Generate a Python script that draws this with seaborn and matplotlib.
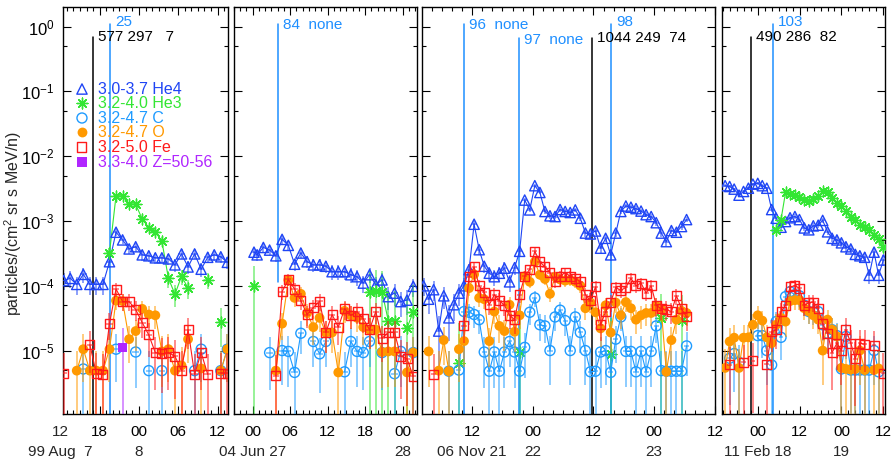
import numpy as np
import pandas as pd
import matplotlib
matplotlib.use("Agg")
import matplotlib.pyplot as plt
import seaborn as sns
from matplotlib.ticker import FixedLocator, MultipleLocator, NullFormatter

nan = np.nan

# ---------------------------------------------------------------- data
LEGEND_LABELS = ["3.0-3.7 He4", "3.2-4.0 He3", "3.2-4.7 C",
                 "3.2-4.7 O", "3.2-5.0 Fe", "3.3-4.0 Z=50-56"]

# Panel 1 : 1999 Aug 7-8 (hours from Aug 7 00:00)
p1_hours = [12.5, 13.5, 14.5, 15.5, 16.5, 17.5, 18.5, 19.5, 20.5, 21.5, 22.5, 23.5, 24.5,
            25.5, 26.5, 27.5, 28.5, 29.5, 30.5, 31.5, 32.5, 33.5, 34.5, 35.5, 36.5, 37.5]
p1_he4 = [1.2e-4, 1.3e-4, 1.05e-4, 1.5e-4, 1.05e-4, 1.05e-4, 1.05e-4, 2.35e-4, 6.7e-4, 5.1e-4,
          3.7e-4, 4.0e-4, 3.0e-4, 2.9e-4, 2.7e-4, 2.7e-4, 2.6e-4, 2.1e-4, 3.1e-4, 1.95e-4,
          3.1e-4, 1.8e-4, 2.75e-4, 3.0e-4, 2.8e-4, 2.3e-4]
p1_he3 = [nan, nan, nan, nan, nan, nan, nan, 3.2e-4, 2.45e-3, 2.4e-3, 1.8e-3, 1.8e-3, 1.07e-3,
          7.9e-4, 6.7e-4, 4.9e-4, 1.3e-4, 7.4e-5, 1.4e-4, 9.2e-5, nan, nan, 1.23e-4, nan, 2.8e-5, nan]
p1_c = [nan, nan, nan, 5.2e-6, nan, nan, nan, nan, 1.05e-5, nan, nan, 9.5e-6, nan, 4.9e-6,
        nan, 4.9e-6, nan, nan, nan, nan, 4.9e-6, 1.05e-5, nan, nan, 4.9e-6, 1.05e-5]
p1_o = [nan, nan, 4.9e-6, 1.05e-5, 4.9e-6, 4.9e-6, 4.9e-6, 1.05e-5, 5.9e-5, 5.8e-5, 1.5e-5,
        2.0e-5, 4.4e-5, 3.6e-5, 3.5e-5, 9.7e-6, 1.05e-5, 4.9e-6, 5.9e-6, 1.5e-5, nan, 5.3e-6,
        nan, nan, 4.9e-6, 1.05e-5]
p1_fe = [4.5e-6, nan, nan, nan, 1.23e-5, 4.4e-6, 4.3e-6, 2.6e-5, 8.9e-5, 5.7e-5, 5.7e-5, 4.3e-5,
         2.7e-5, 1.74e-5, 9.3e-6, 8.9e-6, 9.3e-6, 8.2e-6, 4.9e-6, 2.1e-5, 4.3e-6, 9.3e-6, 4.3e-6,
         nan, 4.5e-6, 4.5e-6]
p1_z = [nan, nan, nan, nan, nan, nan, nan, nan, nan, 1.1e-5, nan, nan, nan, nan, nan, nan, nan,
        nan, nan, nan, nan, nan, nan, nan, nan, nan]

# Panel 2 : 2004 Jun 27-28 (hours from Jun 27 00:00)
p2_hours = [0.2, 0.7, 1.7, 2.7, 3.7, 4.7, 5.7, 6.7, 7.7, 8.7, 9.7, 10.7, 11.7, 12.7, 13.7, 14.7,
            15.7, 16.7, 17.7, 18.7, 19.7, 20.7, 21.7, 22.7, 23.7, 24.7, 25.7]
p2_he4 = [3.3e-4, 3.0e-4, 3.9e-4, 3.55e-4, 2.9e-4, 5.2e-4, 4.2e-4, 2.15e-4, 3.2e-4, 2.35e-4,
          2.1e-4, 2.1e-4, 2.0e-4, 1.65e-4, 1.65e-4, 1.65e-4, 1.48e-4, 1.38e-4, 1.1e-4, 1.48e-4,
          1.03e-4, 1.23e-4, 6.8e-5, 7.7e-5, 5.7e-5, 6.0e-5, 9.8e-5]
p2_he3 = [1.0e-4, nan, nan, nan, nan, nan, nan, nan, nan, nan, nan, nan, nan, nan, nan, nan, nan,
          nan, nan, 8.1e-5, 8.3e-5, 8.1e-5, 2.9e-5, 2.9e-5, nan, 2.2e-5, 4.0e-5]
p2_c = [nan, nan, nan, 9.3e-6, nan, 1.0e-5, 9.7e-6, 4.6e-6, 1.85e-5, nan, 1.38e-5, 8.9e-6,
        1.38e-5, nan, nan, 4.7e-6, 1.38e-5, 9.7e-6, 9.3e-6, 1.38e-5, nan, 9.3e-6, nan, 4.4e-6,
        9.7e-6, nan, 9.3e-6]
p2_o = [nan, nan, nan, nan, 4.9e-6, 2.6e-5, 1.23e-4, 6.5e-5, 7.5e-5, 3.8e-5, 2.3e-5, 3.2e-5,
        1.9e-5, 1.9e-5, 4.6e-6, 4.1e-5, 3.5e-5, 3.2e-5, 2.3e-5, 2.1e-5, 2.1e-5, 9.5e-6, 9.7e-6,
        9.7e-6, nan, 4.6e-6, 9.3e-6]
p2_fe = [nan, nan, nan, nan, 4.1e-6, 8.1e-5, 1.25e-4, 8.9e-5, 5.9e-5, 3.6e-5, 4.6e-5, 5.8e-5,
         1.9e-5, 3.6e-5, 2.3e-5, 4.4e-5, 3.5e-5, 4.0e-5, 3.1e-5, 2.1e-5, 4.0e-5, 1.55e-5, 1.9e-5,
         1.9e-5, 8.2e-6, 7.5e-6, 4.0e-6]

# Panel 3 : 2006 Nov 21-23 (hours from Nov 21 00:00)
p3_hours = [2.4, 3.4, 4.4, 5.4, 6.4, 7.4, 8.4, 9.4, 10.4, 11.4, 12.4, 13.4, 14.4, 15.4, 16.4,
            17.4, 18.4, 19.4, 20.4, 21.4, 22.4, 23.4, 24.4, 25.4, 26.4, 27.4, 28.4, 29.4, 30.4,
            31.4, 32.4, 33.4, 34.4, 35.4, 36.4, 37.4, 38.4, 39.4, 40.4, 41.4, 42.4, 43.4, 44.4,
            45.4, 46.4, 47.4, 48.4, 49.4, 50.4, 51.4, 52.4, 53.4, 54.4]
p3_he4 = [1.0e-4, 6.2e-5, 8.7e-5, 2.0e-5, 7.0e-5, 3.2e-5, 5.1e-5, 7.7e-5, 1.0e-4, 1.77e-4,
          8.9e-4, 3.6e-4, 2.0e-4, 1.56e-4, 1.38e-4, 1.56e-4, 1.87e-4, 1.15e-4, 1.9e-4, 3.4e-4,
          2.1e-3, 1.48e-3, 3.5e-3, 2.75e-3, 1.4e-3, 1.2e-3, 1.17e-3, 1.5e-3, 1.4e-3, 1.35e-3,
          1.48e-3, 1.1e-3, 6.5e-4, 6.3e-4, 7.0e-4, 3.8e-4, 5.4e-4, 3.0e-4, 6.5e-4, 1.4e-3,
          1.7e-3, 1.63e-3, 1.55e-3, 1.42e-3, 1.25e-3, 1.17e-3, 9.4e-4, 6.5e-4, 4.8e-4, 7.1e-4,
          6.7e-4, 8.2e-4, 1.05e-3]
p3_he3 = [nan, nan, nan, nan, nan, nan, nan, 6.5e-6, nan, nan, nan, nan, nan, nan, nan, nan, nan,
          nan, nan, 9.5e-6, nan, nan, nan, nan, nan, nan, nan, nan, nan, nan, nan, nan, nan, nan,
          nan, nan, nan, 9.0e-6, nan, nan, nan, nan, nan, nan, nan, nan, nan, 3.2e-5, nan, nan,
          nan, 3.0e-5, nan]
p3_c = [nan, nan, nan, nan, nan, 4.8e-6, nan, 5.0e-6, 4.0e-5, 3.9e-5, 3.6e-5, 3.0e-5, 9.5e-6,
        4.8e-6, 9.5e-6, 4.8e-6, 9.5e-6, 1.38e-5, 9.5e-6, 4.8e-6, 1.12e-5, 3.9e-5, 6.5e-5, 2.5e-5,
        2.4e-5, 1.0e-5, 3.3e-5, 4.2e-5, 2.9e-5, 1.0e-5, 3.3e-5, 1.9e-5, 1.0e-5, 4.7e-6, 4.8e-6,
        9.5e-6, 1.0e-5, 4.6e-6, 1.5e-5, 3.3e-5, 9.7e-6, 9.7e-6, 4.7e-6, 9.7e-6, 4.7e-6, 9.7e-6,
        2.4e-5, 4.9e-6, 4.8e-6, 4.8e-6, 4.8e-6, 4.8e-6, 1.18e-5]
p3_o = [nan, 9.7e-6, nan, 4.9e-6, 1.45e-5, 4.8e-6, nan, 1.05e-5, 1.4e-5, 9.2e-5, 1.5e-4, 6.5e-5,
        6.2e-5, 1.4e-5, 4.0e-5, 2.4e-5, 2.0e-5, 5.1e-5, 1.95e-5, 3.5e-5, 1.4e-4, 1.15e-4, 2.35e-4,
        1.48e-4, 1.27e-4, 7.5e-5, 1.38e-4, 1.25e-4, 1.2e-4, 1.23e-4, 1.15e-4, 1.0e-4, 4.5e-5,
        5.5e-5, 3.9e-5, 2.2e-5, 5.0e-5, 1.9e-5, 5.5e-5, 3.5e-5, 5.6e-5, 4.5e-5, 3.0e-5, 3.5e-5,
        3.8e-5, 3.8e-5, 4.9e-5, 4.3e-5, 4.7e-6, 1.45e-5, 3.0e-5, 4.1e-5, 3.8e-5]
p3_fe = [nan, nan, 4.3e-6, nan, nan, nan, nan, nan, 2.4e-5, 1.38e-4, 1.95e-4, 1.0e-4, 7.9e-5,
         5.1e-5, 7.3e-5, 5.9e-5, 5.0e-5, 3.5e-5, 3.0e-5, 7.3e-5, 1.4e-4, 1.8e-4, 3.4e-4, 2.35e-4,
         1.95e-4, 1.6e-4, 1.15e-4, 1.4e-4, 1.6e-4, 1.4e-4, 1.3e-4, 1.15e-4, 7.3e-5, 5.9e-5,
         9.6e-5, 2.5e-5, 4.0e-5, 5.6e-5, 9.4e-5, 8.5e-5, 9.4e-5, 1.3e-4, 1.0e-4, 1.1e-4, 7.7e-5,
         1.0e-4, 5.0e-5, 4.4e-5, 4.3e-5, 4.0e-5, 7.0e-5, 4.4e-5, 3.3e-5]

# Panel 4 : 2011 Feb 17-19 (hours from Feb 18 00:00)
p4_hours = [-9.5, -8.2, -6.9, -5.5, -4.2, -2.8, -1.5, -0.1, 1.2, 2.5, 3.9, 5.2, 6.6, 7.9, 9.2,
            10.6, 11.9, 13.3, 14.6, 15.9, 17.3, 18.6, 20.0, 21.3, 22.7, 24.0, 25.3, 26.7, 28.0,
            29.3, 30.7, 32.0, 33.4, 34.7, 36.1]
p4_he4 = [3.5e-3, 3.4e-3, 3.1e-3, 2.5e-3, 2.85e-3, 3.2e-3, 3.7e-3, 3.8e-3, 3.5e-3, 3.2e-3,
          1.5e-3, 1.1e-3, 8.0e-4, 9.8e-4, 1.12e-3, 1.17e-3, 1.05e-3, 7.8e-4, 7.3e-4, 8.4e-4,
          8.6e-4, 1.02e-3, 6.8e-4, 5.4e-4, 5.1e-4, 4.6e-4, 4.0e-4, 3.7e-4, 3.05e-4, 2.9e-4,
          2.75e-4, 1.45e-4, 3.3e-4, 1.45e-4, 2.5e-4]
p4_he3 = [nan, nan, nan, nan, nan, nan, nan, nan, nan, nan, nan, 7.3e-4, 1.05e-3, 2.75e-3,
          2.65e-3, 2.5e-3, 2.3e-3, 2.1e-3, 2.0e-3, 2.15e-3, 2.4e-3, 2.85e-3, 2.75e-3, 2.25e-3,
          1.9e-3, 1.7e-3, 1.4e-3, 1.17e-3, 1.05e-3, 8.7e-4, 8.2e-4, 7.3e-4, 6.1e-4, 5.3e-4, 4.0e-4]
p4_c = [nan, 7.6e-6, 9.0e-6, 6.6e-6, nan, nan, nan, 1.7e-5, 1.7e-5, 1.0e-5, 6.0e-6, 2.8e-5,
        1.6e-5, 6.8e-5, 8.1e-5, 7.3e-5, 7.0e-5, 5.0e-5, 4.0e-5, 3.9e-5, 4.0e-5, 2.5e-5, 1.85e-5,
        2.1e-5, 1.7e-5, 5.2e-6, 1.65e-5, 5.0e-6, 5.0e-6, 5.0e-6, 5.0e-6, 5.0e-6, 1.0e-5, 4.7e-6, nan]
p4_o = [5.4e-6, 1.38e-5, 1.58e-5, 5.4e-6, 1.58e-5, 1.6e-5, 2.5e-5, 3.5e-5, 2.9e-5, 1.6e-5,
        1.3e-5, 2.5e-5, 3.2e-5, 2.8e-5, 5.8e-5, 6.0e-5, 6.0e-5, 4.5e-5, 4.0e-5, 3.5e-5, 3.0e-5,
        1.0e-5, 3.0e-5, 2.1e-5, 1.65e-5, 5.4e-6, 5.2e-6, 5.1e-6, 5.2e-6, 1.0e-5, 5.0e-6, nan,
        5.0e-6, 5.3e-6, nan]
p4_fe = [nan, 6.0e-6, nan, nan, 6.6e-6, nan, 7.0e-6, nan, nan, 6.2e-6, 1.95e-5, 2.1e-5, 4.0e-5,
         5.0e-5, 9.6e-5, 1.0e-4, 9.2e-5, 5.0e-5, 5.5e-5, 5.6e-5, 4.5e-5, 2.6e-5, 1.85e-5, 9.3e-6,
         1.3e-5, 1.0e-5, 2.1e-5, 1.3e-5, 7.5e-6, 1.3e-5, 1.25e-5, nan, 1.2e-5, nan, 4.5e-6]

# event markers (time, line top, colour key, text, text height)
p1_events = [(17.0, 0.69, "k", "577 297   7", 0.68), (19.6, 1.1, "b", "25", 1.18)]
p2_events = [(4.04, 1.1, "b", "84  none", 1.06)]
p3_events = [(10.4, 1.1, "b", "96  none", 1.06), (21.3, 0.67, "b", "97  none", 0.62),
             (35.7, 0.67, "k", "1044 249  74", 0.67), (39.45, 1.1, "b", "98", 1.18)]
p4_events = [(-2.04, 0.69, "k", "490 286  82", 0.69), (4.3, 1.1, "b", "103", 1.18)]
p2_blue_line_bottom = 1.15e-4

# time-axis labels: hour labels and date labels (second row)
xmajor = [[18, 24, 30, 36], [0, 6, 12, 18, 24], [12, 24, 36, 48, 60], [0, 12, 24, 36]]
hour_labels = [["18", "00", "06", "12"],
               ["00", "06", "12", "18", "00"],
               ["12", "00", "12", "00", "12"],
               ["00", "12", "00", "12"]]
date_labels = [[(12, "99 Aug  7"), (24, "8")],
               [(0, "04 Jun 27"), (24, "28")],
               [(12, "06 Nov 21"), (24, "22"), (48, "23")],
               [(0, "11 Feb 18"), (24, "19")]]
p1_outside_hour = (12, "12")

# one-count level per species and panel (sets error-bar length)
count_unit = {"He4": [1e-5, 1e-5, 1e-5, 1e-5], "He3": [1e-5, 1e-4, 6e-5, 1e-5],
              "C": [5e-6, 5e-6, 5e-6, 5e-6], "O": [5e-6, 5e-6, 5e-6, 5e-6],
              "Fe": [5e-6, 5e-6, 5e-6, 5e-6], "Z": [1.1e-5, 1.1e-5, 1.1e-5, 1.1e-5]}

panels = [
    dict(t=p1_hours, He4=p1_he4, He3=p1_he3, C=p1_c, O=p1_o, Fe=p1_fe, Z=p1_z, ev=p1_events),
    dict(t=p2_hours, He4=p2_he4, He3=p2_he3, C=p2_c, O=p2_o, Fe=p2_fe, ev=p2_events),
    dict(t=p3_hours, He4=p3_he4, He3=p3_he3, C=p3_c, O=p3_o, Fe=p3_fe, ev=p3_events),
    dict(t=p4_hours, He4=p4_he4, He3=p4_he3, C=p4_c, O=p4_o, Fe=p4_fe, ev=p4_events),
]

# ---------------------------------------------------------------- style
sns.set_theme(style="ticks")
plt.rcParams["font.family"] = ["Liberation Sans", "DejaVu Sans"]
plt.rcParams["mathtext.fontset"] = "custom"
plt.rcParams["mathtext.rm"] = "Liberation Sans"
plt.rcParams["mathtext.it"] = "Liberation Sans:italic"
plt.rcParams["mathtext.bf"] = "Liberation Sans:bold"

COL = {"He4": "#1f45f5", "He3": "#33e633", "C": "#1e9bff", "O": "#ff9900",
       "Fe": "#ff1a1a", "Z": "#b026ff"}
EVCOL = {"k": "#000000", "b": "#1e8fff"}
STY = {
    "He4": dict(marker="^", s=55, open=True, z=3),
    "He3": dict(marker=(8, 2, 0), s=60, open=None, z=3),
    "C": dict(marker="o", s=52, open=True, z=4),
    "O": dict(marker="o", s=50, open=False, z=5),
    "Fe": dict(marker="s", s=42, open=True, z=6),
    "Z": dict(marker="s", s=42, open=False, z=7),
}
ORDER = ["He4", "He3", "C", "O", "Fe", "Z"]

W, H = 896.0, 461.0
panel_px = [(63, 228), (234, 417), (422, 715), (722, 885)]
xlims = [(12.4, 37.6), (-3.0, 26.3), (2.1, 60.02), (-10.4, 36.55)]
xhalf = [0.5, 0.5, 0.5, 0.67]
xminor = [1, 1, 2, 2]
YLO, YHI = 1.05e-6, 2.0
BOTTOM = 1e-8
FS = 11

fig = plt.figure(figsize=(8.96, 4.61), dpi=100)
axes = []
for i, (x0, x1) in enumerate(panel_px):
    ax = fig.add_axes([x0 / W, 1 - 414 / H, (x1 - x0) / W, (414 - 7) / H])
    axes.append(ax)
    ax.set_yscale("log")
    ax.set_xlim(*xlims[i])
    ax.set_ylim(YLO, YHI)
    P = panels[i]
    t = np.array(P["t"], float)
    for sp in ORDER:
        if sp not in P:
            continue
        v = np.array(P[sp], float)
        c = COL[sp]
        st = STY[sp]
        ax.plot(t, v, color=c, lw=0.8, zorder=st["z"])
        m = np.isfinite(v)
        tv, vv = t[m], v[m]
        sig = np.sqrt(vv * count_unit[sp][i])
        lo = vv - sig
        lo = np.where(lo <= 0, BOTTOM, lo)
        ax.errorbar(tv, vv, yerr=[vv - lo, sig], xerr=xhalf[i], fmt="none",
                    ecolor=c, elinewidth=1.3, alpha=0.55, capsize=0, zorder=st["z"] - 0.5)
        df = pd.DataFrame({"hour": tv, "flux": vv})
        if st["open"] is True:
            sns.scatterplot(data=df, x="hour", y="flux", ax=ax, marker=st["marker"], s=st["s"],
                            color=c, facecolor="none", edgecolor=c, linewidth=1.0,
                            zorder=st["z"] + 0.2, legend=False)
        elif st["open"] is False:
            sns.scatterplot(data=df, x="hour", y="flux", ax=ax, marker=st["marker"], s=st["s"],
                            color=c, edgecolor="none", linewidth=0,
                            zorder=st["z"] + 0.2, legend=False)
        else:
            sns.scatterplot(data=df, x="hour", y="flux", ax=ax, marker=st["marker"], s=st["s"],
                            color=c, edgecolor=None, linewidth=1.0,
                            zorder=st["z"] + 0.2, legend=False)
    # event lines
    for (th, top, ck, txt, ty) in P["ev"]:
        bottom = p2_blue_line_bottom if i == 1 else BOTTOM
        ax.plot([th, th], [bottom, top], color=EVCOL[ck], lw=1.1, zorder=2)
        ax.annotate(txt, xy=(th, ty), xytext=(3.5, 0), textcoords="offset points",
                    color=EVCOL[ck], fontsize=FS, va="center", ha="left",
                    annotation_clip=False)
    ax.set_xlim(*xlims[i])
    ax.set_ylim(YLO, YHI)
    ax.set_xlabel("")
    ax.set_ylabel("")

    # ticks
    ax.xaxis.set_major_locator(FixedLocator(xmajor[i]))
    ax.set_xticklabels(hour_labels[i])
    ax.xaxis.set_minor_locator(MultipleLocator(xminor[i]))
    ax.yaxis.set_major_locator(FixedLocator([1e-5, 1e-4, 1e-3, 1e-2, 1e-1, 1e0]))
    ax.yaxis.set_minor_locator(FixedLocator([5e-6, 5e-5, 5e-4, 5e-3, 5e-2, 5e-1]))
    ax.yaxis.set_minor_formatter(NullFormatter())
    if i == 0:
        ax.set_yticklabels([r"$\mathregular{10^{-5}}$", r"$\mathregular{10^{-4}}$",
                            r"$\mathregular{10^{-3}}$", r"$\mathregular{10^{-2}}$",
                            r"$\mathregular{10^{-1}}$", r"$\mathregular{10^{0}}$"])
    else:
        ax.yaxis.set_major_formatter(NullFormatter())
    ax.tick_params(which="both", direction="in", top=True, right=True, color="black",
                   width=0.8, labelsize=FS, labelcolor="black")
    ax.tick_params(which="major", length=6)
    ax.tick_params(which="minor", length=3)
    ax.tick_params(axis="x", pad=8)
    ax.tick_params(axis="y", pad=6, labelsize=12)
    for s in ax.spines.values():
        s.set_color("black")
        s.set_linewidth(1.0)
    ax.set_facecolor("white")
    ax.grid(False)

    # second row: dates
    for (tx, txt) in date_labels[i]:
        ax.annotate(txt, xy=(tx, 0), xycoords=("data", "axes fraction"),
                    xytext=(0, -22.5), textcoords="offset points", ha="center", va="top",
                    fontsize=FS, annotation_clip=False)

# left-most hour label lies just outside panel 1
axes[0].annotate(p1_outside_hour[1], xy=(p1_outside_hour[0], 0),
                 xycoords=("data", "axes fraction"), xytext=(0, -8),
                 textcoords="offset points", ha="center", va="top",
                 fontsize=FS, annotation_clip=False)

# legend inside panel 1
ax = axes[0]
rows_px = [89, 103, 118, 132, 147, 162]
for sp, lab, ypx in zip(ORDER, LEGEND_LABELS, rows_px):
    yf = (414 - ypx) / 407.0
    st = STY[sp]
    c = COL[sp]
    if st["open"] is True:
        ax.scatter([0.115], [yf], transform=ax.transAxes, marker=st["marker"], s=st["s"],
                   facecolor="none", edgecolor=c, linewidth=1.0, zorder=10, clip_on=False)
    elif st["open"] is False:
        ax.scatter([0.115], [yf], transform=ax.transAxes, marker=st["marker"], s=st["s"],
                   color=c, linewidth=0, zorder=10, clip_on=False)
    else:
        ax.scatter([0.115], [yf], transform=ax.transAxes, marker=st["marker"], s=st["s"],
                   color=c, linewidth=1.0, zorder=10, clip_on=False)
    ax.text(0.212, yf, lab, transform=ax.transAxes, color=c, fontsize=11.5,
            va="center", ha="left", zorder=10)

fig.text(13 / W, 1 - 224 / H, r"particles/(cm$^{2}$ sr s MeV/n)", rotation=90,
         ha="center", va="center", fontsize=11.5)

fig.savefig("out.png", dpi=100, facecolor="white")
